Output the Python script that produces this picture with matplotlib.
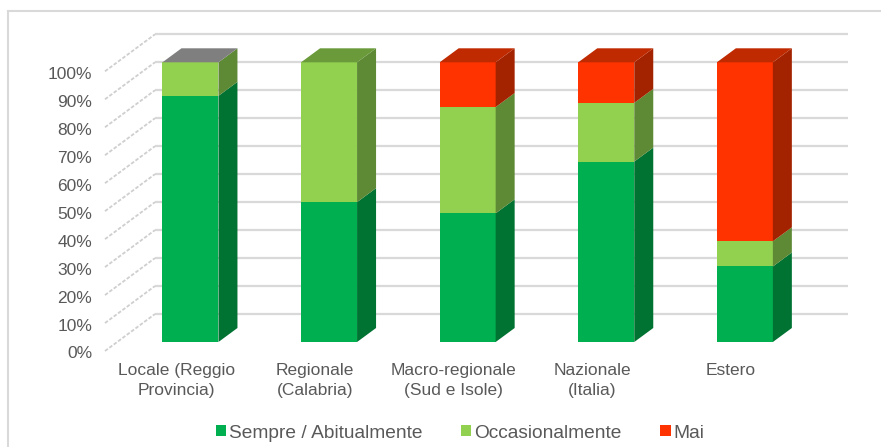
import matplotlib
matplotlib.use("Agg")
import matplotlib.pyplot as plt
from matplotlib.patches import Rectangle, Polygon, Patch
from matplotlib.transforms import ScaledTranslation, IdentityTransform
from matplotlib.lines import Line2D
import numpy as np

plt.rcParams['font.family'] = ['Liberation Sans', 'DejaVu Sans']

# ---- data -------------------------------------------------------------
categories = ["Locale (Reggio\nProvincia)", "Regionale\n(Calabria)",
              "Macro-regionale\n(Sud e Isole)", "Nazionale\n(Italia)", "Estero"]
series_names = ["Sempre / Abitualmente", "Occasionalmente", "Mai"]
sempre = [88, 50, 46, 64.5, 27]
occasionalmente = [12, 50, 38, 21, 9]
mai = [0, 0, 16, 14.5, 64]
y_ticks = [0, 10, 20, 30, 40, 50, 60, 70, 80, 90, 100]
y_tick_labels = [f"{t}%" for t in y_ticks]

# ---- style ------------------------------------------------------------
front_colors = ["#00B050", "#92D050", "#FF3300"]
side_colors = ["#007232", "#5E8A35", "#A32200"]
top_colors = ["#7F7F7F", "#6A9A3A", "#C02A00", "#C02A00", "#C02A00"]
text_color = "#595959"
grid_color = "#D9D9D9"
FS = 12.5

DPI = 100
W, H = 881, 447
fig = plt.figure(figsize=(W / DPI, H / DPI), dpi=DPI)
ax = fig.add_axes([117 / W, (H - 342) / H, 693 / W, 279.7 / H])
ax.set_xlim(-0.53, 4.47)
ax.set_ylim(0, 100)
ax.axis("off")

bar_w = 0.404
bar_depth = (19, 14)       # pixels, bar back face relative to front face
front_plane = (-12, -9)    # floor front edge relative to bar front plane
back_wall = (38, 28)       # back wall relative to bar front plane


def shifted(dx, dy):
    return ax.transData + ScaledTranslation(dx / DPI, dy / DPI, fig.dpi_scale_trans)


def disp(x, y, off=(0, 0)):
    p = ax.transData.transform((x, y))
    return (p[0] + off[0], p[1] + off[1])


x0, x1 = ax.get_xlim()

# back wall gridlines
for t in y_ticks:
    ax.plot([x0, x1], [t, t], transform=shifted(*back_wall), color=grid_color,
            lw=1.6, zorder=0, clip_on=False, solid_capstyle="butt")

# side wall gridlines (diagonals)
for t in y_ticks:
    a = disp(x0, t, front_plane)
    b = disp(x0, t, back_wall)
    ax.add_artist(Line2D([a[0], b[0]], [a[1], b[1]], transform=IdentityTransform(),
                         color="#CFCFCF", lw=1.3, linestyle=(0, (2, 1)), zorder=0,
                         clip_on=False))

# y tick labels on the front edge of the side wall
for t, lab in zip(y_ticks, y_tick_labels):
    ax.text(x0, t, lab, transform=shifted(front_plane[0] - 13, front_plane[1] - 3),
            ha="right", va="center", fontsize=FS, color=text_color)

# stacked 3D bars
values = np.array([sempre, occasionalmente, mai], dtype=float)
for i in range(len(categories)):
    bottom = 0.0
    for s in range(len(series_names)):
        h = values[s, i]
        if h <= 0:
            continue
        left, right = i - bar_w / 2, i + bar_w / 2
        ax.add_patch(Rectangle((left, bottom), bar_w, h, facecolor=front_colors[s],
                               edgecolor="none", zorder=3))
        pts = [disp(right, bottom), disp(right, bottom + h),
               disp(right, bottom + h, bar_depth), disp(right, bottom, bar_depth)]
        ax.add_patch(Polygon(pts, closed=True, transform=IdentityTransform(),
                             facecolor=side_colors[s], edgecolor="none", zorder=3,
                             clip_on=False))
        bottom += h
    left, right = i - bar_w / 2, i + bar_w / 2
    pts = [disp(left, bottom), disp(right, bottom),
           disp(right, bottom, bar_depth), disp(left, bottom, bar_depth)]
    ax.add_patch(Polygon(pts, closed=True, transform=IdentityTransform(),
                         facecolor=top_colors[i], edgecolor="none", zorder=3,
                         clip_on=False))

# category labels
for i, cat in enumerate(categories):
    ax.text(i, 0, cat, transform=shifted(-14, front_plane[1] - 12),
            ha="center", va="top", fontsize=FS, color=text_color, linespacing=1.45)

# legend
handles = [Patch(facecolor=c, edgecolor="none") for c in front_colors]
fig.legend(handles, series_names, loc="center", bbox_to_anchor=(460 / W, 1 - 433 / H),
           ncol=3, frameon=False, fontsize=13.8, handlelength=0.55, handleheight=0.55,
           handletextpad=0.15, columnspacing=2.0, labelcolor=text_color)

# chart border (top and left edges)
fig.add_artist(Line2D([7.5 / W, 1], [1 - 10.5 / H, 1 - 10.5 / H], transform=fig.transFigure,
                      color=grid_color, lw=1.5))
fig.add_artist(Line2D([7.5 / W, 7.5 / W], [0, 1 - 10.5 / H], transform=fig.transFigure,
                      color=grid_color, lw=1.5))

fig.savefig("out.png", dpi=DPI)
